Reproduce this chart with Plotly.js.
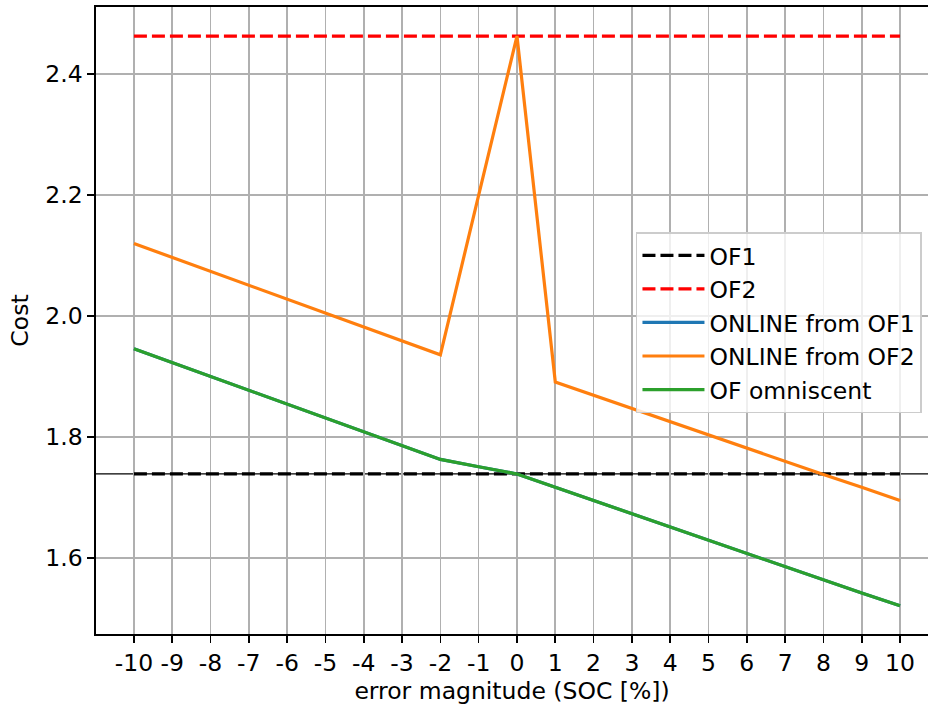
<!DOCTYPE html>
<html>
<head>
<meta charset="utf-8">
<script src="https://cdn.plot.ly/plotly-3.0.1.min.js"></script>
<style>html,body{margin:0;padding:0;background:#fff;}#chart{width:928px;height:708px;}</style>
</head>
<body>
<div id="chart"></div>
<script>
const errorMag = [-10,-9,-8,-7,-6,-5,-4,-3,-2,-1,0,1,2,3,4,5,6,7,8,9,10];
const of1Cost = 1.739;
const of2Cost = 2.463;
const onlineFromOF2 = [2.120,2.097,2.073,2.050,2.027,2.004,1.981,1.958,1.936,2.200,2.463,1.891,1.869,1.847,1.826,1.804,1.782,1.760,1.738,1.717,1.695];
const ofOmniscent = [1.946,1.923,1.900,1.877,1.854,1.831,1.808,1.785,1.763,1.751,1.739,1.717,1.695,1.673,1.651,1.629,1.607,1.585,1.564,1.542,1.521];
const onlineFromOF1 = [1.946,1.923,1.900,1.877,1.854,1.831,1.808,1.785,1.763,1.751,1.739,1.717,1.695,1.673,1.651,1.629,1.607,1.585,1.564,1.542,1.521];
const xTickVals = [-10,-9,-8,-7,-6,-5,-4,-3,-2,-1,0,1,2,3,4,5,6,7,8,9,10];
const xTickText = ["-10","-9","-8","-7","-6","-5","-4","-3","-2","-1","0","1","2","3","4","5","6","7","8","9","10"];
const yTickVals = [1.6,1.8,2.0,2.2,2.4];
const yTickText = ["1.6","1.8","2.0","2.2","2.4"];

const FONT = "DejaVu Sans, sans-serif";
const FS = 23.5;

const traces = [
  {x: errorMag, y: errorMag.map(() => of1Cost), name: "OF1", mode: "lines",
   line: {color: "#000000", width: 3.2, dash: "13px,5px"}},
  {x: errorMag, y: errorMag.map(() => of2Cost), name: "OF2", mode: "lines",
   line: {color: "#ff0000", width: 3.2, dash: "13px,5px"}},
  {x: errorMag, y: onlineFromOF1, name: "ONLINE from OF1", mode: "lines",
   line: {color: "#1f77b4", width: 3.2}},
  {x: errorMag, y: onlineFromOF2, name: "ONLINE from OF2", mode: "lines",
   line: {color: "#ff7f0e", width: 3.2}},
  {x: errorMag, y: ofOmniscent, name: "OF omniscent", mode: "lines",
   line: {color: "#2ca02c", width: 3.2}}
];

const layout = {
  width: 928, height: 708,
  margin: {l: 96, r: 0, t: 7, b: 74},
  paper_bgcolor: "#ffffff", plot_bgcolor: "#ffffff",
  font: {family: FONT, size: FS, color: "#000"},
  showlegend: true,
  legend: {x: 0.649, y: 0.641, xanchor: "left", yanchor: "top",
    bgcolor: "rgba(255,255,255,0.8)", bordercolor: "#cccccc", borderwidth: 1.5,
    font: {family: FONT, size: FS}, tracegroupgap: 0, itemwidth: 62},
  xaxis: {range: [-10.99, 10.73], tickmode: "array", tickvals: xTickVals, ticktext: xTickText,
    showgrid: true, gridcolor: "#b0b0b0", gridwidth: 1.6, zeroline: false,
    showline: true, linecolor: "#000", linewidth: 1.6, mirror: true,
    ticks: "outside", ticklen: 7, tickwidth: 1.6, tickcolor: "#000",
    tickfont: {family: FONT, size: FS},
    title: {text: "error magnitude (SOC [%])", font: {family: FONT, size: FS}, standoff: 6}},
  yaxis: {range: [1.4744, 2.511], tickmode: "array", tickvals: yTickVals, ticktext: yTickText,
    showgrid: true, gridcolor: "#b0b0b0", gridwidth: 1.6, zeroline: false,
    showline: true, linecolor: "#000", linewidth: 1.6, mirror: false,
    ticks: "outside", ticklen: 7, tickwidth: 1.6, tickcolor: "#000",
    tickfont: {family: FONT, size: FS},
    title: {text: "Cost", font: {family: FONT, size: FS}, standoff: 10}},
  shapes: [
    {type: "line", xref: "paper", x0: 0, x1: 1, yref: "y", y0: of1Cost, y1: of1Cost,
     line: {color: "#000", width: 1.2}, layer: "below"},
    {type: "line", xref: "x", x0: 0, x1: 0, yref: "paper", y0: 0, y1: 1,
     line: {color: "#000", width: 1.2}, layer: "below"}
  ]
};

Plotly.newPlot("chart", traces, layout, {displayModeBar: false, staticPlot: true});
</script>
</body>
</html>
